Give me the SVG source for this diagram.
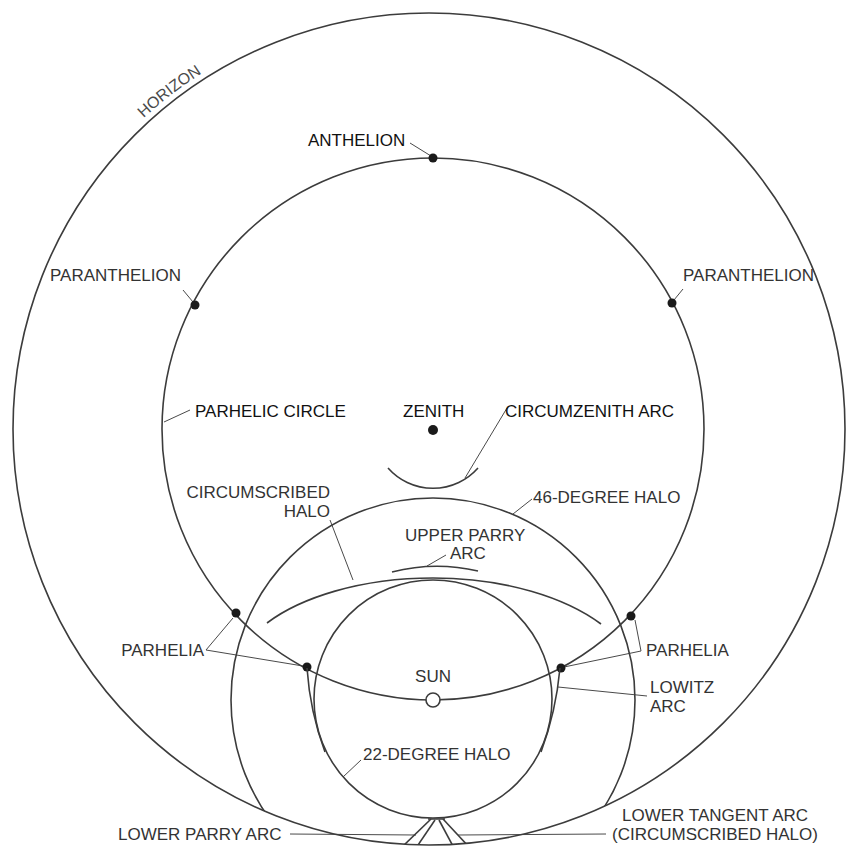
<svg xmlns="http://www.w3.org/2000/svg" xmlns:xlink="http://www.w3.org/1999/xlink" width="846" height="847" viewBox="0 0 846 847">
<style>
.c{fill:none;stroke:#3c3c3c;stroke-width:1.6}
.l{fill:none;stroke:#4a4a4a;stroke-width:1}
.d{fill:#1a1a1a}
text{font-family:"Liberation Sans",Arial,sans-serif;font-size:17px;fill:#333}
.k{fill:#111}
.h{font-size:16px;fill:#4a4a4a}
</style>
<defs>
<clipPath id="hz"><circle cx="429" cy="429" r="416"/></clipPath>
<path id="hp" d="M7,429 A422,422 0 0 1 851,429"/>
</defs>
<rect width="846" height="847" fill="#fff"/>
<g id="connectors">
<path class="l" d="M410,143 L431,156"/>
<path class="l" d="M183,290 L193,302"/>
<path class="l" d="M683,289 L674,300"/>
<path class="l" d="M164,422 L190,410"/>
<path class="l" d="M507,408 L465,478"/>
<path class="l" d="M330,520 L353,580"/>
<path class="l" d="M427,566 L446,555"/>
<path class="l" d="M513,514 L532,499"/>
<path class="l" d="M233,618 L206,650 L303,666"/>
<path class="l" d="M635,620 L641,651 L564,667"/>
<path class="l" d="M558,687 L647,696"/>
<path class="l" d="M343,777 L361,760"/>
<path class="l" d="M290,834 L416,835"/>
<path class="l" d="M458,835 L606,834"/>
</g>
<g id="horizon"><circle class="c" cx="429" cy="429" r="416"/>
<text class="h"><textPath xlink:href="#hp" startOffset="386" text-anchor="middle">HORIZON</textPath></text></g>
<g id="parhelic-circle"><circle class="c" cx="433" cy="429" r="271"/>
<text class="k" x="195" y="417">PARHELIC CIRCLE</text></g>
<g id="halo46"><circle class="c" cx="433" cy="700" r="202" clip-path="url(#hz)"/>
<text x="533" y="503">46-DEGREE HALO</text></g>
<g id="halo22"><circle class="c" cx="433" cy="699" r="119"/>
<text x="363" y="760">22-DEGREE HALO</text></g>
<g id="circumscribed-halo"><path class="c" d="M267,623 C300,598 360,578 433,578 C506,578 566,598 601,624"/>
<text x="330" y="498" text-anchor="end">CIRCUMSCRIBED</text>
<text x="330" y="517" text-anchor="end">HALO</text></g>
<g id="upper-parry-arc"><path class="c" d="M392,572 Q435,561 478,571"/>
<text x="405" y="541">UPPER PARRY</text>
<text x="450" y="559">ARC</text></g>
<g id="circumzenith-arc"><path class="c" d="M388,468 A60,60 0 0 0 478,468"/>
<text class="k" x="505" y="417">CIRCUMZENITH ARC</text></g>
<g id="zenith"><circle class="d" cx="433" cy="430" r="5"/>
<text class="k" x="403" y="417">ZENITH</text></g>
<g id="anthelion"><circle class="d" cx="433" cy="158" r="4.5"/>
<text class="k" x="308" y="146">ANTHELION</text></g>
<g id="paranthelion-left"><circle class="d" cx="195" cy="305" r="4.5"/>
<text x="50" y="281">PARANTHELION</text></g>
<g id="paranthelion-right"><circle class="d" cx="672" cy="303" r="4.5"/>
<text x="683" y="281">PARANTHELION</text></g>
<g id="parhelia-left"><circle class="d" cx="236" cy="613" r="4.5"/><circle class="d" cx="307" cy="667" r="4.5"/>
<text x="204" y="656" text-anchor="end">PARHELIA</text></g>
<g id="parhelia-right"><circle class="d" cx="631" cy="616" r="4.5"/><circle class="d" cx="561" cy="668" r="4.5"/>
<text x="646" y="656">PARHELIA</text></g>
<g id="lowitz-arc"><path class="c" d="M307,668 Q310,712 325,752"/><path class="c" d="M560,668 Q556,712 541,752"/>
<text x="650" y="693">LOWITZ</text><text x="650" y="712">ARC</text></g>
<g id="sun"><circle cx="433" cy="700" r="7" fill="#fff" stroke="#3c3c3c" stroke-width="1.6"/>
<text x="433" y="682" text-anchor="middle">SUN</text></g>
<g id="lower-arcs"><g clip-path="url(#hz)">
<path class="c" d="M428,819 L445,819"/>
<path class="c" d="M431,819 L401,848"/>
<path class="c" d="M435,820 L416,848"/>
<path class="c" d="M439,820 L454,848"/>
<path class="c" d="M443,819 L470,848"/></g>
<text x="622" y="821">LOWER TANGENT ARC</text>
<text x="612" y="840">(CIRCUMSCRIBED HALO)</text>
<text x="118" y="840">LOWER PARRY ARC</text></g>
</svg>
